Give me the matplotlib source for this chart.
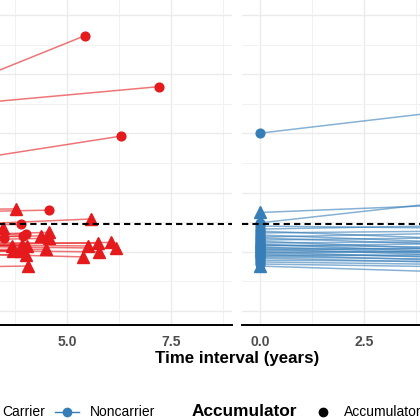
import matplotlib.pyplot as plt
from matplotlib.lines import Line2D

plt.rcParams['font.family'] = ['Liberation Sans', 'DejaVu Sans']

red = '#E41A1C'
blue = '#377EB8'
threshold = 1.095

# carriers: follow-up time (years), baseline value, follow-up value, accumulator flag
car_time = [5.43, 7.21, 6.30, 3.77, 4.57, 5.58, 3.89, 3.47, 3.49, 3.95, 4.01, 4.37, 4.57, 4.57,
            3.67, 3.91, 4.05, 3.71, 3.89, 4.01, 4.51, 5.51, 5.75, 6.07, 6.19, 5.78, 5.39, 4.06]
car_base = [1.422, 1.466, 1.253, 1.141, 1.128, 1.077, 1.087, 1.078, 1.047, 1.040, 1.053, 1.040, 1.047, 1.033,
            1.020, 1.016, 1.026, 1.006, 0.996, 0.993, 1.006, 1.026, 1.033, 1.020, 1.023, 1.009, 1.003, 0.945]
car_follow = [1.730, 1.558, 1.391, 1.145, 1.141, 1.111, 1.093, 1.081, 1.048, 1.054, 1.060, 1.054, 1.066, 1.046,
              1.021, 1.023, 1.021, 1.004, 1.003, 0.989, 1.009, 1.020, 1.029, 1.032, 1.012, 1.000, 0.983, 0.952]
car_acc = [1, 1, 1, 0, 1, 0, 1, 0, 1, 1, 1, 0, 0, 0,
           0, 0, 0, 0, 0, 0, 0, 0, 0, 0, 0, 0, 0, 0]

# noncarriers
non_time = [6.0, 5.5, 5.0, 4.8, 5.2, 4.5, 6.1, 5.0, 4.2, 5.6, 4.9, 5.3, 6.3, 4.4, 5.1, 4.7,
            5.8, 4.6, 5.4, 4.3, 6.0, 5.0, 4.8, 5.5, 4.9, 5.7, 4.5, 5.2, 4.1, 5.9, 5.3, 5.0]
non_base = [1.401, 1.133, 1.098, 1.087, 1.077, 1.070, 1.064, 1.057, 1.050, 1.047, 1.040, 1.036, 1.030, 1.026, 1.023, 1.020,
            1.016, 1.013, 1.010, 1.006, 1.003, 1.000, 0.996, 0.993, 0.990, 0.986, 0.983, 0.979, 0.972, 0.966, 0.959, 0.952]
non_follow = [1.500, 1.164, 1.176, 1.080, 1.090, 1.045, 1.072, 1.030, 1.062, 1.020, 1.048, 1.005, 1.036, 1.000, 1.015, 1.028,
              0.990, 1.010, 0.985, 1.012, 0.995, 0.978, 1.004, 0.982, 0.970, 0.992, 0.975, 0.962, 0.968, 0.955, 0.948, 0.930]
non_acc = [1, 0, 1, 1, 1, 1, 1, 1, 1, 1, 1, 1, 1, 1, 1, 1,
           1, 1, 1, 1, 1, 1, 1, 1, 1, 1, 1, 1, 1, 1, 1, 0]

time_ticks = [0, 2.5, 5.0, 7.5]

fig = plt.figure(figsize=(4.2, 4.2), dpi=100)
W = 420.0
ax1 = fig.add_axes([-159 / W, 95 / W, 391 / W, 354.4 / W])
ax2 = fig.add_axes([242 / W, 95 / W, 391 / W, 354.4 / W])

def panel(ax, times, base, follow, acc, col, shown):
    for t, b, f, a in zip(times, base, follow, acc):
        ax.plot([0, t], [b, f], color=col, alpha=0.6, lw=1.1, zorder=2)
        m = 'o' if a else '^'
        ms = 6.3 if a else 8
        ax.plot([0, t], [b, f], ls='none', marker=m, ms=ms, color=col, zorder=3)
    ax.axhline(threshold, color='black', lw=1.5, ls=(0, (3, 2)), zorder=4)
    ax.set_xlim(-0.43, 8.97)
    ax.set_ylim(0.753, 1.95)
    ax.set_xticks(time_ticks)
    # only label the ticks that fall inside the visible crop
    ax.set_xticklabels([f'{v:.1f}' if v in shown else '' for v in time_ticks])
    ax.set_xticks([1.25, 3.75, 6.25, 8.75], minor=True)
    ax.set_yticks([0.8, 1.0, 1.2, 1.4, 1.6, 1.8])
    ax.set_yticks([0.9, 1.1, 1.3, 1.5, 1.7], minor=True)
    ax.grid(which='major', color='#EBEBEB', lw=1.0, zorder=0)
    ax.grid(which='minor', color='#F1F1F1', lw=0.7, zorder=0)
    ax.set_axisbelow(True)
    for s in ['top', 'right', 'left']:
        ax.spines[s].set_visible(False)
    ax.spines['bottom'].set_linewidth(1.4)
    ax.spines['bottom'].set_color('black')
    ax.tick_params(which='both', length=0, labelleft=False)
    ax.tick_params(axis='x', pad=7, labelsize=10, labelcolor='#4D4D4D')
    for lab in ax.get_xticklabels():
        lab.set_fontweight('bold')

panel(ax1, car_time, car_base, car_follow, car_acc, red, [5.0, 7.5])
panel(ax2, non_time, non_base, non_follow, non_acc, blue, [0, 2.5])

fig.text(237 / W, (420 - 359) / W, 'Time interval (years)', ha='center', va='center',
         fontsize=12.2, fontweight='bold')

# legend row
ly = (420 - 412) / W
def key(x, col, marker, line=True):
    if line:
        fig.add_artist(Line2D([(x - 12) / W, (x + 12) / W], [ly, ly], color=col, lw=1.0,
                              transform=fig.transFigure))
    fig.add_artist(Line2D([x / W], [ly], marker=marker, ms=6, color=col, ls='none',
                          transform=fig.transFigure))

key(-20, red, 'o')
fig.text(2 / W, ly, 'Carrier', ha='left', va='center', fontsize=10)
key(67, blue, 'o')
fig.text(90 / W, ly, 'Noncarrier', ha='left', va='center', fontsize=10)
fig.text(192 / W, ly, 'Accumulator', ha='left', va='center', fontsize=12.4, fontweight='bold')
key(323, 'black', 'o', line=False)
fig.text(344 / W, ly, 'Accumulator', ha='left', va='center', fontsize=10)

fig.savefig('out.png', dpi=100)
